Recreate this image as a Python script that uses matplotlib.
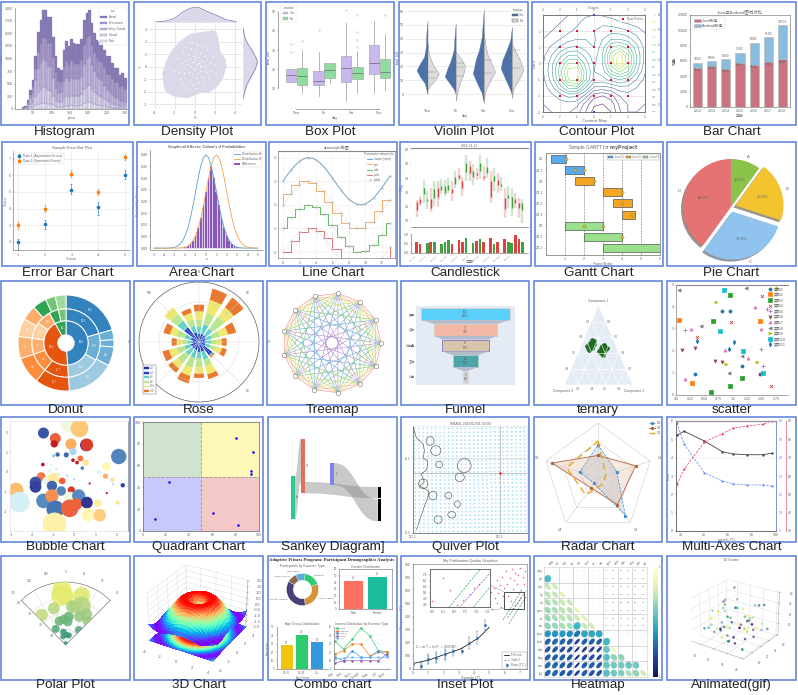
import numpy as np
import matplotlib
matplotlib.use('Agg')
import matplotlib.pyplot as plt
from matplotlib.patches import Rectangle, Ellipse, PathPatch, Polygon
from matplotlib.path import Path
from matplotlib.colors import Normalize

W, H = 798, 695
plt.rcParams.update({
    'font.family': ['Liberation Sans', 'Noto Sans CJK SC', 'DejaVu Sans'],
    'font.size': 3, 'axes.linewidth': .4, 'axes.edgecolor': '#666666',
    'xtick.major.size': 1, 'ytick.major.size': 1, 'xtick.major.width': .3, 'ytick.major.width': .3,
    'xtick.major.pad': .8, 'ytick.major.pad': .8, 'xtick.labelsize': 2.6, 'ytick.labelsize': 2.6,
    'axes.labelsize': 2.8, 'axes.titlesize': 3, 'axes.titlepad': 1.5, 'axes.labelpad': .6,
    'legend.fontsize': 2.3, 'legend.title_fontsize': 2.3, 'lines.linewidth': .6, 'patch.linewidth': .3,
    'text.color': '#666666', 'xtick.labelcolor': '#666666', 'ytick.labelcolor': '#666666',
    'xtick.color': '#777777', 'ytick.color': '#777777',
    'axes.labelcolor': '#666666', 'axes.unicode_minus': False, 'grid.color': '#dddddd', 'grid.linewidth': .3,
    'legend.borderpad': .4, 'legend.handlelength': 1.8, 'legend.labelspacing': .35, 'legend.handletextpad': .5,
})

# ------------------------ panel captions ------------------------
row_boxes = [(2, 125), (142, 266), (281, 405), (417, 542), (556, 680)]
caption_y = [132, 273, 410, 547, 685]
col_boxes = [
    [(1, 129), (134, 261), (266, 394), (399, 528), (532, 661), (667, 796)],
    [(2, 133), (137, 266), (269, 397), (400, 531), (535, 663), (667, 796)],
    [(1, 130), (134, 263), (267, 397), (401, 529), (534, 662), (667, 796)],
    [(1, 130), (134, 263), (268, 397), (401, 529), (534, 662), (667, 796)],
    [(1, 130), (134, 263), (268, 397), (401, 530), (534, 662), (667, 796)],
]
caption_rows = [
    ['Histogram', 'Density Plot', 'Box Plot', 'Violin Plot', 'Contour Plot', 'Bar Chart'],
    ['Error Bar Chart', 'Area Chart', 'Line Chart', 'Candlestick', 'Gantt Chart', 'Pie Chart'],
    ['Donut', 'Rose', 'Treemap', 'Funnel', 'ternary', 'scatter'],
    ['Bubble Chart', 'Quadrant Chart', 'Sankey Diagram]', 'Quiver Plot', 'Radar Chart', 'Multi-Axes Chart'],
    ['Polar Plot', '3D Chart', 'Combo chart', 'Inset Plot', 'Heatmap', 'Animated(gif)'],
]

# ------------------------ histogram ------------------------
hist_fair = [0,5,10,30,45,70,95,110,120,115,105,100,75,50,35,30,50,60,60,70,65,65,70,80,110,130,140,115,95,80,70,65,50,40,35,25,20,20,15,15,10]
hist_good = [5,10,30,65,100,180,250,290,310,300,270,260,190,130,100,100,170,190,170,190,190,190,190,210,290,320,340,280,240,210,190,170,140,110,100,80,70,60,50,50,40]
hist_vgood = [10,20,60,120,180,320,460,520,560,540,480,470,350,240,190,200,330,360,320,350,340,330,330,370,500,560,560,480,420,370,340,320,270,220,210,170,140,130,100,100,90]
hist_premium = [8,12,39,72,101,220,325,382,414,449,456,471,405,310,230,195,272,337,315,367,325,305,300,317,370,390,414,390,361,344,360,373,345,330,345,321,298,318,270,293,250]
hist_ideal = [10,13,40,90,150,250,400,460,550,550,510,520,410,310,253,250,350,390,380,400,390,390,390,400,500,500,500,430,380,360,370,370,360,340,350,310,280,280,240,250,220]
hist_names = ['Ideal', 'Premium', 'Very Good', 'Good', 'Fair']
hist_colors = ['#8a7bb5', '#a89bca', '#c2b8db', '#d9d3e9', '#ebe8f3']

# ------------------------ density ------------------------
dens_blob_x = [-3.1,-3.2,-2.9,-2.3,-1.5,-.5,1,1.8,2.15,2.3,2.5,3,3.1,2.8,2.3,1.5,.5,-.7,-2,-2.9]
dens_blob_y = [-1.5,-.5,.3,1.3,2,2.6,2.8,2.9,2.7,2.2,1.2,.6,0,-.8,-1.5,-2,-2.1,-2.5,-2.4,-2]
dens_pts_x = [-2.1,-1.8,-1.5,-1.4,-1.2,-1.1,-1,-.9,-.8,-.7,-.6,-.6,-.5,-.4,-.4,-.3,-.2,-.2,-.1,0,0,.1,.1,.2,.3,.3,.4,.5,.5,.6,.7,.8,.9,1,1.1,1.2,1.3,1.5,1.6,1.9,-1.3,-.9,-.3,.2,.7,1.2,-.6,.1,.8,-1,-.2,.4,1,-.5,.6,-1.6,1.7,2.1]
dens_pts_y = [-.3,.7,-1,.3,1.2,-.5,.5,-1.5,.2,1,-.4,.6,-1.1,.1,1.5,-.6,.4,-1.4,.9,-.2,.6,-.9,1.3,.2,-.5,.8,-1.2,.1,1.1,-.3,.5,-.8,.9,.1,-.4,.6,-.9,.3,-.3,.2,-1.3,1.6,2,1.8,1.6,1.4,-1.7,-1.7,-1.5,-.9,-.1,.3,-1.2,1.9,.1,-.4,.8,-.5]
kde_top_x = [-3.98,-2.83,-2,-1.18,-.53,-.03,.46,1.12,2.1,3.09,4.08]
kde_top_d = [0,3,12,30,40,44,42,32,20,7,1]
kde_right_y = [3.07,2.4,1.87,1.33,.8,.4,-.13,-.8,-1.47,-2.13,-2.53]
kde_right_d = [1,5,15,30,42,48,42,27,12,4,0]

# ------------------------ box ------------------------
box_days = ['Thur', 'Fri', 'Sat', 'Sun']
box_yes_stats = [(13.5,17,20.1,13.5,20.1), (11.7,13.8,19,6,28.8), (13.5,20.4,26.9,3.4,44.3), (17.5,23,32.4,7.4,45.3)]
box_yes_fliers = [[28.8,33.1], [40.4], [50.9], []]
box_no_stats = [(11.7,16.4,20.4,7.7,30), (15.2,19.6,23,13,23), (14.7,18.2,21,7.4,29.5), (15.2,18.5,25.1,9.1,38.3)]
box_no_fliers = [[34.9], [], [48.3,39.6,35.2,31.7], [48.3]]

# ------------------------ violin ------------------------
vio_yes_y = [[53,44,34,27,22,17.5,12.7,8,0],[51,41.5,32,24.7,18.7,12.7,8,3,0],[61,51,41.5,32,24.7,15,8,.7,-6.5],[48.7,39,32,24.7,18.7,10.3,3,-.5]]
vio_yes_w = [[0,.04,.06,.12,.27,.39,.27,.1,0],[0,.04,.07,.17,.29,.39,.22,.05,0],[0,.04,.07,.17,.29,.39,.24,.07,0],[0,.06,.19,.34,.4,.22,.06,0]]
vio_no_y = [[37,29,22,15,10,6.5,3],[30.7,25.9,21,16.3,10.3,4.3,-4.8],[44,36.7,29.5,22.3,16.3,10.3,3,-4],[36.7,32,24.7,17.5,11.5,4.3,-3]]
vio_no_w = [[0,.05,.18,.4,.27,.1,0],[0,.18,.33,.3,.19,.1,0],[0,.05,.12,.27,.4,.24,.07,0],[0,.1,.29,.4,.27,.06,0]]
vio_no_q = [[15.8,11.5],[22.8,19.9,13.2],[25,15.6],[32,18.7]]

# ------------------------ contour ------------------------
cont_x = [0,1,2,3,4,5,6,7,8,9,10,11,12]
cont_y = [0,1,2,3,4,5,6,7,8,9,10,11,12]
cont_z = [
 [0,0,0,0,.2,.8,1,.9,.6,.3,0,0,0],
 [0,0,0,.2,.8,1.5,1.8,1.8,1.6,1.2,.9,.6,.3],
 [0,0,.3,.8,1.3,1.9,2,2.4,2.6,2.5,2.1,1.5,.9],
 [0,.4,1,1.6,2,2,1.8,3,4,4,3.5,2.4,1.3],
 [.3,1.2,2.2,3,3.2,2.6,2,3.6,6,6.6,5.5,3.4,1.6],
 [.7,2,3.6,5,5,3.6,2.4,4,7.5,9.5,7.2,4,1.6],
 [.9,2.6,5,7,7,4.6,2.8,4,7.5,10,7.5,4,1.5],
 [.9,2.8,5.6,8.5,9,5.4,3,3.5,5.8,7.2,6,3.2,1.1],
 [.7,2.4,5,8,8.6,5.2,2.6,2.6,3.4,4,3.4,2,.7],
 [.4,1.6,3.4,5.2,5.4,3,.8,.6,.9,1.6,1.6,1,.4],
 [.2,.7,1.5,2.3,2.2,.6,-1.6,-2,-1.4,0,.6,.4,.1],
 [0,.2,.5,.6,.3,-1.4,-2.8,-3,-2.6,-.8,.1,.1,0],
 [0,0,.1,.1,-.5,-2,-3.4,-3.5,-3,-1.2,0,0,0]]
cont_px = [2,4,6,8,10]
cont_py = [2,4,6,8,10]

# ------------------------ stacked bars ------------------------
bar_years = ['2012','2013','2014','2015','2016','2017','2018']
bar_java = [5100,5400,5000,5800,5500,5900,6200]
bar_total = [5800,6000,6300,7100,8400,9100,10700]

# ------------------------ error bars ------------------------
err_x = [1,2,3,4,5]
err_a = [2,3.1,5.1,4.1,6]
err_a_lo = [.5,.3,.2,.5,.2]
err_a_hi = [.2,.2,.4,.3,.3]
err_b = [3,4,6.1,5,7.1]
err_b_lo = [.2,.2,.2,.2,.2]
err_b_hi = [.2,.2,.2,.2,.2]

# ------------------------ area ------------------------
area_x = [-5+.25*i for i in range(41)]
area_blue = [0,0,0,0,0,0,.001,.002,.004,.009,.018,.032,.054,.086,.13,.183,.242,.301,.352,.387,.399,.387,.352,.301,.242,.183,.13,.086,.054,.032,.018,.009,.004,.002,.001,0,0,0,0,0,0]
area_orange = [0,0,0,0,0,0,0,0,0,0,.001,.002,.004,.009,.018,.032,.054,.086,.13,.183,.242,.301,.352,.387,.399,.387,.352,.301,.242,.183,.13,.086,.054,.032,.018,.009,.004,.002,.001,0,0]

# ------------------------ line / steps ------------------------
wave_x = [.5*i for i in range(27)]
wave_y = [0,.25,.48,.68,.84,.95,1,.98,.91,.78,.6,.38,.14,-.11,-.35,-.57,-.76,-.89,-.98,-1,-.96,-.86,-.71,-.51,-.28,-.03,.22]
step_x = [0,1,2,3,4,5,6,7,8,9,10,11,12,13]
step_y = [0,.48,.84,1,.91,.6,.14,-.35,-.76,-.98,-.96,-.71,-.28,.22]

# ------------------------ candles ------------------------
c_open = [17.1,22.5,32.6,25.3,18.5,31.9,26.5,34.7,34.7,34.9,29.5,40.6,40,33,50.7,43.6,44.8,42,50.7,40,47.6,26.5,41.3,35.4,35.9,18.2,27.9,26.9,22.5,18.9,22]
c_close = [23.2,25.3,28.8,23.6,25.5,26,33,31.2,29.5,31.2,31.9,35.9,42,38.2,44.1,48.3,40.6,43.8,44.8,41.7,43.8,38.2,37.7,38.9,34.2,26,26,18.9,24.8,22.5,17.1]
c_high = [24.1,27.2,38.7,30.7,33,38.2,37.7,39.6,38.9,40,37.7,44.8,47.1,40.6,56.5,51.8,50,47.1,56.5,48.3,54.2,44.8,47.1,43.6,40.6,33,34.2,33,29.5,26,24.8]
c_low = [12.4,20.1,22.5,17.8,16.1,20.1,19.4,28.8,27.2,29.5,23.6,33,38.2,27.2,37.7,37.7,35.4,38.9,39.6,37.7,40,22.5,30.7,29.5,30.7,11.9,18.9,13.1,18.9,11.9,8.4]
c_volume = [.6,.5,0,.55,.6,.6,0,.5,.6,.7,.5,0,.7,.6,.85,0,.55,.65,.8,.6,0,.85,.5,.6,0,.8,.6,.55,1,.75,.6]
c_dates = ['2019-01-07','2019-01-14','2019-01-21','2019-01-28','2019-02-04','2019-02-11','2019-02-18','2019-02-25','2019-03-04','2019-03-11']

# ------------------------ gantt ------------------------
g_tasks = ['Z1','Z1.1','Z2','Z2.1','Z2.2','Z2.3','Z3','Z3.1','Z3.2']
g_start = [.26,1,1.54,3,3.5,4,1,2,3]
g_end = [1.06,2,2.52,4,4.5,4.68,3,4,6]
g_color = ['#5aaaf0','#5aaaf0','#f5a623','#f5a623','#f5a623','#f5a623','#9be08c','#9be08c','#9be08c']
g_marks = [[1.06],[1.5,2],[2.52],[4],[4],[4.5],[2,3],[4],[]]

# ------------------------ pie ------------------------
pie_values = [10,20,30,40]
pie_labels = ['A','B','C','D']
pie_colors = ['#8bc34a','#f4c430','#90c4ee','#e57373']
pie_explode = [0,.1,.1,0]

# ------------------------ donut ------------------------
don_in = [176,155,29]
don_in_c = ['#3182bd','#e6550d','#31a354']
don_mid = [74,46,56,42,33,27,28,25,16,13]
don_mid_c = ['#3182bd','#6baed6','#9ecae1','#e6550d','#fd8d3c','#fdae6b','#fdd0a2','#fdae6b','#31a354','#74c476']
don_out = [74,12,9,23,58,42,33,27,22,18,17,12,13]
don_out_c = ['#3182bd','#6baed6','#6baed6','#6baed6','#9ecae1','#e6550d','#fd8d3c','#fdae6b','#fdd0a2','#fdae6b','#31a354','#74c476','#a1d99b']

# ------------------------ rose ------------------------
rose_dirs = [0,22.5,45,67.5,90,112.5,135,157.5,180,202.5,225,247.5,270,292.5,315,337.5]
rose_a = [25,25,25,20,18,20,50,30,30,25,25,25,20,25,55,30]
rose_b = [20,30,25,20,18,15,3,25,20,25,25,20,15,20,25,20]
rose_c = [22,35,45,25,15,18,0,20,25,30,30,25,15,25,25,20]
rose_d = [25,40,35,25,17,18,0,25,20,25,20,23,17,20,25,20]
rose_e = [20,35,37,25,15,15,5,15,13,23,15,20,15,20,0,14]
rose_colors = ['#2040c0','#60d0c8','#b8e88c','#f0e870','#e87a30']

# ------------------------ network / funnel / ternary ------------------------
net_nodes = 13
net_colors = {1:'#e8767a',2:'#f4a460',3:'#c8d850',4:'#6cc06c',5:'#4fa3d8',6:'#a67cc8'}
fun_names = ['展现','点击','访问量','咨询','订单']
fun_values = [100,71,52,28,5]
fun_colors = ['#5bcffa','#f6b8a6','#d9c4ac','#4ca6a8','#d0d0d0']
fun_edges = ['#d8d0c8','#d8c8c0','#8878c8','#a8d0c8','#d8d8d8']
ter_a = [.46,.48,.5,.52,.55,.5,.53,.47,.49,.51,.56,.44,.47,.53,.5,.48,.52,.46, .42,.44,.46,.48,.45,.41,.43,.47,.5,.49,.4,.38,.44,.46,.42,.4,.47,.44]
ter_c = [.11,.14,.12,.13,.16,.16,.11,.17,.09,.18,.13,.14,.12,.15,.14,.16,.15,.15, .34,.33,.31,.35,.38,.38,.3,.36,.33,.3,.34,.37,.35,.39,.36,.36,.33,.31]

# ------------------------ scatter ------------------------
sc_x = [[.81,.94,.34,1.16,1.47],[.05,1.47,.28],[.95,.65,.94,1.16,.62],[1.51,.97,.36,1.67,1.47],[1.6,.15,1.48,1.52],[.1,.33,.69,.81],[1.38,.26,1.48,.86,1.26,.15],[.06,1.22,.44,1.16,.93],[1.77,.7,.88,1.42],[.84,.77,1.18,1.53],[.36,1.02,.92]]
sc_y = [[3.83,3.84,.96,1.3,.96],[3.41,3.35,.53],[4.53,3.35,.43,.79,.15],[4.48,3.31,2.62,.41,.96],[3.93,2.97,2.07,1.31],[2.03,2.13,1.55,1.51],[4.01,3.02,3.02,2.06,1.68,.73],[4.77,4.88,3.13,1.77,1.02],[4.88,4.22,1.4,1.52],[4.79,2.9,1.98,1.02],[2.44,2.39,2.1]]
sc_markers = ['o','s','s','x','+','v','^','<','>','s','d']
sc_colors = ['#1f77b4','#ff7f0e','#2ca02c','#d62728','#9467bd','#8c564b','#e377c2','#7f7f7f','#bcbd22','#17becf','#1f77b4']

# ------------------------ bubble ------------------------
bub_x = [-.27,.25,-1.46,-.9,-.95,-.16,.57,.6,2.11,-.06,-.79,-.38,-.98,.29,-.06,.13,.54,-1.49,-1.11,1.52,.38,-1.17,-.86,1.17,-.35,-.75,1.48,-1.57,-1.3,-1.84,-1.84,-.98,-.57,0,-1.06,-.62,-.14,1.81,1.84,2.3,.73,-2.76,-2.6,-1.46,-1.06,-.19,.21,-.9,.1,-.22,.6,1.13,.67,1.21,-.94,1.54,2.05]
bub_y = [2.42,2.2,1.97,1.69,1.42,1.41,1.36,1.37,.78,1.03,.88,.86,.81,.68,.59,.47,.47,.37,.37,.27,.19,.05,.14,-.03,-.17,-.12,-.22,-.24,-.46,-.54,-.76,-.34,-.46,-.37,-.71,-.97,-.92,-.41,-.63,-.68,-.59,-.92,-1.53,-1.47,-1.22,-1.31,-1.22,-1.9,-1.64,-1.85,-1.56,-1.59,-2.17,-2.2,-2.66,-1.08,-1.56]
bub_r = [22,24,15,15,10,15,17,17,21,10,6,7,4,8,5,5,9,5,2,12,5,5,3,6,5,5,7,12,12,16,16,16,9,3,14,13,10,6,3,6,3,20,28,20,18,16,18,24,16,24,16,11,18,17,32,3,6]
bub_c = [.55,.35,.95,.18,.06,.3,1,.12,.87,.7,.92,.92,.75,.2,.05,.05,.42,.05,.7,.48,.87,.6,.65,.6,.62,.62,.3,.22,.58,.95,.98,.44,.18,.7,.92,.87,.12,.4,.7,.98,.05,.33,.62,.86,.25,.55,.86,.9,.18,.18,1,.45,.48,.36,.45,.05,.42]

# ------------------------ quadrant ------------------------
quad_x = [80,95,93.5,93,22,10.3,60,82]
quad_y = [85,72.5,55.5,52.5,45,10.7,16.8,5.8]

# ------------------------ quiver ------------------------
quiv_angle = [
 [236,231,225,217,207,194,180,166,153],
 [243,239,233,225,214,198,180,162,146],
 [252,248,243,236,225,207,180,153,135],
 [261,259,256,252,243,225,180,135,117],
 [270,270,270,270,270,270,90,90,90],
 [279,281,284,288,297,315,0,45,63],
 [288,292,297,304,315,333,0,27,45],
 [297,301,307,315,326,342,0,18,34],
 [304,309,315,323,333,346,0,14,27]]
coast_x = [0,3,9,10,9,13,12,7,10,6,14,13,10,6,3]
coast_y = [99,89,83,77,70,67,59,55,48,44,39,33,25,12.5,3]
isle_x = [15,20,23,45,41,9,17.5,31,39,34,22]
isle_y = [86,77,64,63,52,46,35,35,27,17,12.5]
isle_w = [7,9,6,12,8,8,7,6,5,7,7]
isle_h = [8,9,6,13,8,9,8,6,6,6,7]

# ------------------------ radar ------------------------
radar_labels = ['U1','U2','U3','U4','U5']
radar_d1 = [.6,.36,.85,.12,.35]
radar_d2 = [.41,.72,.6,.22,.88]
radar_d3 = [.67,.15,.14,.38,.6]

# ------------------------ multi-axes ------------------------
multi_x = [17,23,40,55,64,76,89,97]
multi_black = [5.22,5.44,4.91,4.33,4.2,4.16,4.16,4.25]
multi_blue = [5.9,4.73,3.18,2.73,2.58,2.51,2.51,2.45]
multi_red = [2.55,3.36,4.85,5.31,5.6,5.73,5.82,6.02]

# ------------------------ polar ------------------------
pol_theta = [-4,-5,0,18,-18,-39,10,15,22,34,26,42,-15,-4,6,5,-32,41.5,-10,-19,18,4,0]
pol_r = [233,205,204,218,160,160,162,166,175,153,131,135,103,107,118,97,79,83,55,36,42,42,7]
pol_s = [28,30,25,25,18,19,19,18,28,18,16,15,14,14,15,14,12,12,10,8,9,9,6]
pol_c = ['#e8ec68','#e5ea70','#e5ea70','#e0e870','#b8d880','#c0da80','#a8d080','#a8d080','#b5d480','#a0cc80','#98c880','#9cc87c','#6ab878','#6ab878','#6ab878','#6ab878','#55a878','#55a878','#3c9878','#3c9878','#3c9878','#3c9878','#2d9070']

# ------------------------ 3D surface radial profile ------------------------
surf_profile_r = [.25*i for i in range(24)]
surf_profile_z = wave_y[:24]

# ------------------------ combo ------------------------
combo_don = [35,60,100,130,35]
combo_don_c = ['#5dade2','#2ecc71','#d4933a','#4a3f78','#8b6b55']
combo_don_l = ['Yoga/Pilates','Swimming','Cardio Training','Strength Training','Group Classes']
combo_gender = [42,48]
combo_age = [28,40,31.5]
combo_green = [32.7,23.6,35.4,48.4,39.4,21.7,20.5]
combo_orange = [17.7,21.7,29.5,29.5,15.7,19.7,20.5]
combo_blue = [13.8,9.8,21.7,13.8,13.8,21.7,15.7]
combo_purple = [6.7,9.8,9.8,9.8,9.8,9.8,17.7]
combo_sky = [11.8,13,13.8,13,13.8,13.8,13.8]
combo_ticks = ['Yoga','Swim','Cardio','Strength','Group','HIIT','Dance']

# ------------------------ inset ------------------------
ins_x = [0,.5,1,1.5,2.1,2.6,3.2,3.7,4.2,4.75]
ins_y = [37,25,75,87,112,137,137,200,237,337]
ins_err = [35,30,40,40,40,40,25,45,50,40]
ins_fit_x = [0,1,2.1,3.2,4.3,5]
ins_fit_y = [42,67,112,157,237,317]
ins_pink_x = [5,5.1,5.2,5.3,5.35,5.5,5.5,5.6,5.7,5.75,5.85,5.9,6,6,6.1,6.2,6.25,6.35,6.4,6.5,6.55,6.6,6.7,6.8,6.85,6.9,7,7.1,7.2,7.3,7.35,6.55,6.7,6.85,6.95,7.05]
ins_pink_y = [510,590,460,620,540,680,500,580,640,470,700,560,620,480,745,650,560,690,520,760,610,680,730,590,650,720,770,600,700,650,750,468,485,505,525,540]
ins_lines = [([5.9,7.1],[372,592],'#2ca25f'),([6.2,7.45],[390,600],'#8a5fd0'),([6.3,7.45],[345,555],'#2ca25f')]

# ------------------------ corr matrix ------------------------
corr_labels = ['mpg','cyl','dsp','hp','wt','qsec','vs','am','gear','carb','drat','disp','rpm','kpl']
corr_rows = [
 [],[.05],[.5,.55],[.45,.5,.65],[.4,.45,.5,.5],[.35,.4,.45,.45,.7],[.35,.4,.45,.45,.55,.65],
 [.3,.35,.4,.4,.0,.5,.55],[-.2,-.2,-.2,-.25,-.4,-.1,-.1,-.1],[-.45,-.45,-.45,-.5,-.7,-.5,-.5,-.55,.02],
 [-.55,-.55,-.6,-.6,-.8,-.7,-.7,-.7,.15,.75],[-.5,-.5,-.5,-.55,-.8,-.6,-.6,-.65,.1,.3,.3],
 [-.45,-.45,-.5,-.5,-.8,-.5,-.5,-.55,.15,.2,.2,.15,.2],[-.45,-.45,-.5,-.5,-.7,-.5,-.55,-.55,.1,.2,.25,.4,.3,.55]]

# ------------------------ 3D scatter ------------------------
s3_x = [12,28,35,18,22,8,31,15,26,38,10,20,33,5,24,29,14,37,17,21,7,32,27,11,36,19,25,13,30,34,9,23,16,39,6,28,22,31,12,18,35,26,10,33,20,15,29,24,37,8,17,30,13,27,38,21,11,34,25,19]
s3_y = [35,12,28,8,22,30,18,5,38,15,25,33,9,20,14,27,36,11,23,6,31,16,29,3,24,13,37,19,7,34,10,26,21,32,17,4,39,28,12,30,22,8,18,35,15,25,10,33,6,27,13,20,37,5,29,11,24,16,31,9]
s3_z = [38,35,32,30,28,27,25,24,24,22,22,21,20,20,19,18,18,17,16,16,15,15,14,14,13,13,12,12,11,11,10,10,9,9,8,8,7,7,6,6,5,5,5,4,4,4,3,3,3,2,2,2,26,30,33,36,29,23,17,12]
s3_c = [.1,.5,.3,.9,.6,.2,.7,.95,.4,.15,.55,.85,.05,.65,.25,.75,.45,.9,.35,.1,.6,.8,.2,.5,.95,.3,.7,.4,.15,.85,.55,.05,.9,.25,.65,.45,.75,.1,.35,.95,.2,.6,.8,.5,.3,.7,.15,.9,.4,.55,.85,.05,.25,.65,.45,.75,.1,.35,.95,.2]


def A(l, t, r, b, **k):
    return fig.add_axes([l / W, 1 - b / H, (r - l) / W, (b - t) / H], **k)


def light_3d(ax):
    for ax_ in (ax.xaxis, ax.yaxis, ax.zaxis):
        ax_.set_pane_color((1, 1, 1, 0))
        ax_.line.set_color('#aaaaaa'); ax_.line.set_linewidth(.4)
        ax_._axinfo['grid'].update(color='#dedede', linewidth=.35)


fig = plt.figure(figsize=(W / 100, H / 100), dpi=100, facecolor='white')

# ===== Histogram =====
ax = A(15, 8, 128, 109)
bottom = np.zeros(len(hist_ideal))
edges = [18 + 7 * i for i in range(len(hist_ideal))]
for vals, col, name in zip([hist_fair, hist_good, hist_vgood, hist_premium, hist_ideal], hist_colors[::-1], hist_names[::-1]):
    ax.bar(edges, vals, 7, bottom=bottom, align='edge', color=col, edgecolor='#7a6da5', linewidth=.2, label=name)
    bottom += np.array(vals)
ax.set_xlim(0, 309); ax.set_ylim(0, 2000)
ax.set_xticks([50, 100, 150, 200, 250, 300]); ax.set_yticks(range(0, 2001, 250))
ax.set_xlabel('price'); ax.set_ylabel('Count')
for s in ['top', 'right']:
    ax.spines[s].set_visible(False)
h, l = ax.get_legend_handles_labels()
ax.legend(h[::-1], l[::-1], title='cut', loc='upper right', bbox_to_anchor=(.99, 1), borderaxespad=0, fancybox=False, edgecolor='#dddddd', fontsize=2.6, labelspacing=.55)

# ===== Density =====
ax = A(148, 23, 242, 110)
ax.fill(dens_blob_x, dens_blob_y, color='#dcd8ea', zorder=1)
ax.scatter(dens_pts_x, dens_pts_y, s=.8, color='white', linewidths=0, zorder=2)
ax.set_xlim(-4.65, 4.65); ax.set_ylim(-3.46, 3.5)
ax.set_xticks([-4, -2, 0, 2, 4]); ax.set_yticks([-3, -2, -1, 0, 1, 2, 3])
ax.grid(color='#dddddd', lw=.5); ax.set_axisbelow(True)
ax.set_xlabel('X'); ax.set_ylabel('Y')
for s in ax.spines.values():
    s.set_visible(False)
ax.tick_params(length=0)
ax = A(148, 5, 242, 22)
ax.fill_between(kde_top_x, kde_top_d, color='#dcd8ea'); ax.plot(kde_top_x, kde_top_d, color='#8878b8', lw=.5)
ax.set_xlim(-4.65, 4.65); ax.set_ylim(0, 50); ax.axis('off')
ax = A(243, 23, 258, 110)
ax.fill_betweenx(kde_right_y, kde_right_d, color='#dcd8ea'); ax.plot(kde_right_d, kde_right_y, color='#8878b8', lw=.5)
ax.set_ylim(-3.46, 3.5); ax.set_xlim(0, 50); ax.axis('off')

# ===== Box =====
ax = A(278, 5, 393, 109)
def boxes(stats, fliers, off, col):
    bx = [dict(med=s[1], q1=s[0], q3=s[2], whislo=s[3], whishi=s[4], fliers=f) for s, f in zip(stats, fliers)]
    ax.bxp(bx, positions=[i + off for i in range(4)], widths=.38, patch_artist=True, manage_ticks=False,
           boxprops=dict(facecolor=col, edgecolor='#aaaaaa', lw=.5), medianprops=dict(color='#666666', lw=.5),
           whiskerprops=dict(color='#999999', lw=.5), capprops=dict(lw=0),
           flierprops=dict(marker='o', ms=1.1, mfc='none', mec='#aaaaaa', mew=.3))
boxes(box_yes_stats, box_yes_fliers, -.2, '#c9b8ee')
boxes(box_no_stats, box_no_fliers, .2, '#8fdca0')
ax.set_xlim(-.665, 3.49); ax.set_ylim(-.8, 53.5)
ax.set_xticks(range(4)); ax.set_xticklabels(box_days); ax.set_yticks([10, 20, 30, 40, 50])
ax.set_xlabel('day'); ax.set_ylabel('total_bill')
ax.spines['top'].set_visible(False); ax.spines['right'].set_visible(False)
ax.spines['left'].set_bounds(10, 50); ax.spines['bottom'].set_bounds(0, 3)
ax.legend(handles=[Rectangle((0, 0), 1, 1, fc='#c9b8ee', ec='#aaa', lw=.3), Rectangle((0, 0), 1, 1, fc='#8fdca0', ec='#aaa', lw=.3)],
          labels=['Yes', 'No'], title='smoker', loc='upper left', bbox_to_anchor=(.03, 1), borderaxespad=0, fancybox=False, edgecolor='#dddddd')

# ===== Violin =====
ax = A(405, 7, 526, 108)
for i in range(4):
    ax.fill_betweenx(vio_yes_y[i], i - np.array(vio_yes_w[i]), i, color='#4c72a8', ec='#667799', lw=.25)
    ax.fill_betweenx(vio_no_y[i], i, i + np.array(vio_no_w[i]), color='#dcdcdc', ec='#777777', lw=.25)
    for q in vio_no_q[i]:
        ax.plot([i, i + .3], [q, q], color='#666666', lw=.3, ls='--')
ax.set_xlim(-.8, 3.5); ax.set_ylim(-10, 63)
ax.set_xticks(range(4)); ax.set_xticklabels(box_days); ax.set_yticks(range(0, 61, 10))
ax.grid(axis='y', color='#e4e4e4', lw=.5); ax.set_axisbelow(True); ax.tick_params(length=0)
ax.set_xlabel('day'); ax.set_ylabel('total_bill')
for s in ax.spines.values():
    s.set_visible(False)
ax.legend(handles=[Rectangle((0, 0), 1, 1, fc='#4c72a8', ec='#555', lw=.3), Rectangle((0, 0), 1, 1, fc='#dcdcdc', ec='#555', lw=.3)],
          labels=['Yes', 'No'], title='smoker', loc='upper right', frameon=False, borderaxespad=0)

# ===== Contour =====
ax = A(543, 15, 645, 112)
cs = ax.contour(cont_x, cont_y, cont_z, levels=np.arange(-3, 11), cmap='viridis', linewidths=.35)
gx, gy = np.meshgrid(cont_px, cont_py)
ax.scatter(gx.ravel(), gy.ravel(), s=2.5, color='#e0103a', marker='s', linewidths=0, zorder=3, label='Data Points')
ax.scatter([6, 6], [0, 12], s=2, color='#4040d0', marker='s', linewidths=0, zorder=3, clip_on=False)
ax.set_xlim(0, 12); ax.set_ylim(12, 0)
ax.set_xticks([0, 2, 4, 6, 8, 10, 12]); ax.set_yticks([2, 4, 6, 8, 10, 12])
ax.tick_params(top=True, labeltop=True, labelsize=2.2)
ax.set_xticklabels(['-3', '-2', '-1', '0', '1', '2', '3'])
ax.set_yticklabels(['2', '1', '0', '-1', '-2', '-3'])
ax.grid(color='#d8d8d8', lw=.4)
ax.set_xlabel('Contour Map', fontsize=3.2); ax.set_ylabel('Y-axis')
ax.text(.5, 1.065, 'X-axis', transform=ax.transAxes, ha='center', fontsize=3)
ax.legend(loc='upper right', fontsize=2.2, borderaxespad=.3)
for s in ax.spines.values():
    s.set_linewidth(.7); s.set_color('#777777')
cax = A(652, 15, 655, 112)
cb = fig.colorbar(cs, cax=cax); cb.ax.tick_params(labelsize=2.2, length=1, width=.3); cb.outline.set_visible(False)

# ===== Stacked bars =====
ax = A(690, 15, 790, 107)
xs = range(len(bar_years))
extra = [t - j for t, j in zip(bar_total, bar_java)]
ax.bar(xs, bar_java, .65, color='#c97480', edgecolor='#bbbbbb', linewidth=.5, label='Java教程')
ax.bar(xs, extra, .65, bottom=bar_java, color='#88bde0', edgecolor='#bbbbbb', linewidth=.5, label='Android教程')
for i, (j, t) in enumerate(zip(bar_java, bar_total)):
    ax.text(i, t + 150, str(t), ha='center', va='bottom', fontsize=2.4)
    ax.text(i, j - 60, str(j), ha='center', va='top', fontsize=2.4)
ax.set_xticks(list(xs)); ax.set_xticklabels(bar_years); ax.set_ylim(0, 12000); ax.set_xlim(-.55, 6.55)
ax.set_yticks(range(0, 12001, 2000))
ax.set_xlabel('年份'); ax.set_ylabel('销量'); ax.set_title('Java与Android图书对比', fontsize=3.2)
ax.legend(loc='upper left', fontsize=2.8, fancybox=False, edgecolor='#cccccc')

# ===== Error bars =====
ax = A(13, 151, 130, 250)
ax.errorbar(err_x, err_a, yerr=[err_a_lo, err_a_hi], fmt='o', ms=1.6, color='#1f77b4', elinewidth=.4, capsize=1, capthick=.4, label='Data 1 (Asymmetric Errors)')
ax.errorbar(err_x, err_b, yerr=[err_b_lo, err_b_hi], fmt='s', ms=1.6, color='#ff7f0e', elinewidth=.4, capsize=1, capthick=.4, label='Data 2 (Symmetric Errors)')
ax.set_xlim(.81, 5.19); ax.set_ylim(1.52, 7.45)
ax.set_xticks(err_x); ax.set_yticks([2, 3, 4, 5, 6, 7])
ax.grid(color='#e4e4e4', lw=.4)
ax.set_title('Sample Error Bar Plot'); ax.set_xlabel('X-axis'); ax.set_ylabel('Y-axis')
ax.legend(loc='upper left', fancybox=False, edgecolor='#cccccc')
for s in ['top', 'right']:
    ax.spines[s].set_visible(False)

# ===== Area =====
ax = A(150, 150, 263, 250)
ov = np.minimum(area_blue, area_orange)
ax.fill_between(area_x, ov, color='#c9b2e2', alpha=.7, lw=0)
ax.bar(area_x, ov, .17, color='#8a58b8', label='Difference')
ax.plot(area_x, area_blue, color='#5a9fcc', lw=.6, label='Distribution A')
ax.plot(area_x, area_orange, color='#f0a050', lw=.6, label='Distribution B')
ax.set_xlim(-5.4, 5.5); ax.set_ylim(-.008, .42)
ax.set_xticks(range(-5, 6)); ax.set_yticks([0, .05, .1, .15, .2, .25, .3, .35, .4])
ax.set_title("Graphical Effects: Cohen's d Probabilities", fontsize=2.8, fontweight='bold')
ax.set_xlabel('x'); ax.set_ylabel('Probability Density')
ax.legend(loc='upper right', fancybox=False, edgecolor='#cccccc', borderaxespad=.2)
for s in ['top', 'right']:
    ax.spines[s].set_visible(False)

# ===== Steps =====
ax = A(278, 151, 395, 258)
y3 = np.array(wave_y) + 3
sy = np.array(step_y)
ax.plot(wave_x, y3, color='#4f94c4', lw=.6, label='steps (=pre)')
ax.step(step_x, sy + 2, where='pre', color='#f0a050', lw=.6, label='pre')
ax.step(step_x, sy + 1, where='mid', color='#50b050', lw=.6, label='mid')
ax.step(step_x, sy, where='post', color='#e06060', lw=.6, label='post')
for off in [3, 2, 1, 0]:
    ax.plot(step_x, sy + off, 'o--', color='#bbbbbb', ms=.8, lw=.3, alpha=.7, label='(plot)' if off == 0 else None)
ax.set_xlim(-.6, 13.6); ax.set_ylim(-.25, 4.28)
ax.set_xticks([0, 2, 4, 6, 8, 10, 12]); ax.set_yticks([0, 1, 2, 3, 4])
ax.grid(color='#eeeeee', lw=.4)
ax.set_title('drawstyle绘图'); ax.legend(title='Parameter drawstyle', loc='upper right', frameon=False, borderaxespad=0)
ax.spines['top'].set_linewidth(.8); ax.spines['top'].set_color('#888888')

# ===== Candlestick =====
ax = A(411, 148, 528, 227)
cx = list(range(len(c_open)))
cols = ['#e04040' if c > o else '#40a040' for o, c in zip(c_open, c_close)]
ax.vlines(cx, c_low, c_high, colors=cols, lw=1.7, alpha=.25)
ax.vlines(cx, c_open, c_close, colors=cols, lw=1)
ax.set_xlim(-1.6, 31.6); ax.set_ylim(5.3, 61.3)
ax.set_yticks([10, 20, 30, 40, 50, 60]); ax.set_xticks([])
ax.set_ylabel('价格'); ax.set_title('2021-01-11', fontsize=2.4, pad=1)
for s in ['left', 'right']:
    ax.spines[s].set_visible(False)
ax.spines['top'].set_linewidth(.8); ax.spines['top'].set_color('#888888')
ax.spines['bottom'].set_color('#888888'); ax.spines['bottom'].set_linewidth(.6)
ax = A(411, 234, 528, 253)
ax.bar(cx, c_volume, .75, color=cols)
ax.set_xlim(-1.6, 31.6); ax.set_ylim(0, 1.05)
ax.set_xticks(cx[::3][:10]); ax.set_xticklabels(c_dates, rotation=40, ha='right', fontsize=1.25)
ax.tick_params(axis='x', pad=.3)
ax.set_yticks([0, .5, 1]); ax.set_xlabel('日期'); ax.xaxis.set_label_coords(.5, -.36)
for s in ['top', 'right']:
    ax.spines[s].set_visible(False)

# ===== Gantt =====
ax = A(546, 153, 660, 255)
for i, (a, b, c) in enumerate(zip(g_start, g_end, g_color)):
    ax.barh(i, b - a, .72, left=a, color=c, edgecolor='#555555', linewidth=.5)
    for m in g_marks[i]:
        ax.plot(m, i, 'D', color='#f5c518', ms=1.8, mec='#555555', mew=.25, clip_on=False, zorder=4)
ax.set_xlim(0, 6); ax.set_ylim(8.63, -.53)
ax.set_yticks(range(9)); ax.set_yticklabels(g_tasks); ax.set_xticks([1, 2, 3, 4, 5, 6])
ax.grid(axis='x', color='#777777', lw=.4, ls='--'); ax.set_axisbelow(True)
ax.set_xlabel('Project Weeks', fontsize=2.2)
ax.set_title(r'Sample GANTT for $\bf{myProject}$', fontsize=3.4, pad=3)
ax.legend(handles=[Rectangle((0, 0), 1, 1, fc=c, ec='#555', lw=.3) for c in ['#5aaaf0', '#f5a623', '#9be08c']],
          labels=['Level 1', 'Level 2', 'Level 3'], ncol=3, loc='upper right', borderaxespad=.2, fontsize=2, columnspacing=.8, fancybox=False, edgecolor='#888888')
for s in ax.spines.values():
    s.set_color('#888888'); s.set_linewidth(.6)

# ===== Pie =====
ax = A(671, 147, 791, 267)
ax.pie(pie_values, labels=pie_labels, colors=pie_colors, explode=pie_explode, autopct='%.1f%%', startangle=90, counterclock=False,
       shadow={'ox': -.03, 'oy': -.03, 'shade': .75}, textprops=dict(fontsize=3), pctdistance=.6, labeldistance=1.1, wedgeprops=dict(lw=0))
ax.set_xlim(-1.25, 1.25); ax.set_ylim(-1.25, 1.25)

# ===== Donut =====
ax = A(6, 283, 126, 403)
for sizes, colors, rad, wid in [(don_out, don_out_c, 1.0, .29), (don_mid, don_mid_c, .71, .25), (don_in, don_in_c, .46, .29)]:
    wed, _ = ax.pie(sizes, colors=colors, radius=rad, startangle=90, counterclock=False,
                    wedgeprops=dict(width=wid, edgecolor='white', linewidth=.7))
    for sz, w_ in zip(sizes, wed):
        if sz > 20:
            a_ = np.radians((w_.theta1 + w_.theta2) / 2)
            ax.text((rad - wid / 2) * np.cos(a_), (rad - wid / 2) * np.sin(a_), f'{sz / 3.6:.1f}', ha='center', va='center', fontsize=1.8, color='white')
ax.set_xlim(-1.25, 1.25); ax.set_ylim(-1.25, 1.25)

# ===== Rose =====
ax = A(139, 282, 259, 402, projection='polar')
ax.set_theta_zero_location('N'); ax.set_theta_direction(-1)
th = np.radians(rose_dirs)
bot = np.zeros(16)
for vals, col in zip([rose_a, rose_b, rose_c, rose_d, rose_e], rose_colors):
    ax.bar(th, vals, .29, bottom=bot, color=col, linewidth=0)
    bot += np.array(vals)
ax.set_rlim(0, 180); ax.set_rticks([60, 120, 180]); ax.set_yticklabels([])
ax.set_xticks(np.radians([0, 45, 90, 135, 180, 225, 270, 315])); ax.set_xticklabels(['N', 'NE', 'E', 'SE', 'S', '', 'W', 'NW'], fontsize=2.2)
ax.tick_params(pad=-1)
ax.grid(color='#cccccc', lw=.35, ls='--'); ax.spines['polar'].set_linewidth(.5)
ax.legend(handles=[Rectangle((0, 0), 1, 1, color=c) for c in ['#203090'] + rose_colors],
          labels=['0-2', '2-4', '4-6', '6-8', '8-10', '>10'], loc='lower left', bbox_to_anchor=(143 / W, 1 - 394 / H),
          bbox_transform=fig.transFigure, borderaxespad=0, fontsize=1.8, fancybox=False, edgecolor='#555555', framealpha=1, labelspacing=.25)

# ===== Network ("Treemap") =====
ax = A(268, 282, 396, 404)
ang = np.radians(83 - np.arange(net_nodes) * 360 / net_nodes)
nx, ny = np.cos(ang), np.sin(ang)
for i in range(net_nodes):
    for j in range(i + 1, net_nodes):
        d = min(j - i, net_nodes - (j - i))
        ax.plot([nx[i], nx[j]], [ny[i], ny[j]], color=net_colors[d], lw=.35, zorder=1)
ax.scatter(nx, ny, s=10, color='white', edgecolors='#777777', linewidths=.4, zorder=2)
ax.set_xlim(-1.3, 1.3); ax.set_ylim(-1.22, 1.22); ax.axis('off')

# ===== Funnel =====
ax = A(416, 306, 515, 385, facecolor='#e4ebf5')
for i, (v, c, e) in enumerate(zip(fun_values, fun_colors, fun_edges)):
    ax.barh(i, v, .76, left=-v / 2, color=c, edgecolor=e, linewidth=.6)
    ax.text(0, i, f'{v}\n{v}%', ha='center', va='center', fontsize=1.9, color='#555555')
    ax.text(-56.5, i, fun_names[i], ha='right', va='center', fontsize=2.2, clip_on=False)
    if i < 4:
        nv = fun_values[i + 1]
        ax.fill([-v / 2, v / 2, nv / 2, -nv / 2], [i + .38, i + .38, i + .62, i + .62], color='#b4bccb', lw=0)
ax.set_xlim(-55.7, 55.7); ax.set_ylim(4.52, -.52); ax.set_xticks([]); ax.set_yticks([])
for s in ax.spines.values():
    s.set_visible(False)

# ===== Ternary =====
ax = A(534, 281, 662, 405)
ax.add_patch(Polygon([(0, 0), (1, 0), (.5, 1)], color='#e5ecf6', lw=0))
for t in [.2, .4, .6, .8]:
    ax.plot([t / 2, 1 - t / 2], [t, t], color='white', lw=.4)
    ax.plot([t, t / 2 + .5], [0, 1 - t], color='white', lw=.4)
    ax.plot([t, t / 2], [0, t], color='white', lw=.4)
    ax.text(t, -.035, f'{t:.1f}', ha='center', va='top', fontsize=2.2)
    ax.text(t / 2 - .03, t, f'{1 - t:.1f}', ha='right', va='center', fontsize=2.2)
    ax.text(1 - t / 2 + .03, t, f'{t:.1f}', ha='left', va='center', fontsize=2.2)
ax.scatter(np.array(ter_c) + np.array(ter_a) / 2, ter_a, s=11, color='#1f6b20', linewidths=0)
ax.text(.5, 1.03, 'Component 1', ha='center', va='bottom', fontsize=2.4)
ax.text(-.03, -.05, 'Component 2', ha='center', va='top', fontsize=2.4)
ax.text(1.03, -.05, 'Component 3', ha='center', va='top', fontsize=2.4)
ax.set_xlim(-.454, 1.44); ax.set_ylim(-.257, 1.313); ax.axis('off')

# ===== Scatter =====
ax = A(676, 285, 788, 395)
for i in range(11):
    ax.scatter(sc_x[i], sc_y[i], marker=sc_markers[i], s=5, color=sc_colors[i], linewidths=.5, label=f'类别{i + 1}')
ax.set_xlim(0, 1.96); ax.set_ylim(0, 5)
ax.set_xticks([0, .25, .5, .75, 1, 1.25, 1.5, 1.75]); ax.set_xticklabels(['0.0', '0.25', '0.50', '0.75', '1.0', '1.25', '1.50', '1.75'])
ax.set_yticks([0, 1, 2, 3, 4, 5])
ax.legend(loc='upper right', fontsize=2.8, borderaxespad=.1, handletextpad=.1, labelspacing=.4, frameon=False)
ax.spines['top'].set_linewidth(.8); ax.spines['top'].set_color('#888888')
ax.spines['right'].set_visible(False)

# ===== Bubble =====
ax = A(10, 421, 128, 531)
ax.scatter(bub_x, bub_y, s=[.28 * r * r for r in bub_r], c=bub_c, cmap='RdYlBu', vmin=0, vmax=1, linewidths=0, zorder=2)
ax.set_xlim(-3.05, 2.55); ax.set_ylim(-3, 2.58)
ax.set_xticks([-3, -2, -1, 0, 1, 2]); ax.set_yticks([-2, -1, 0, 1, 2])
for s in ['top', 'bottom', 'left']:
    ax.spines[s].set_color('#dddddd')

# ===== Quadrant =====
ax = A(143, 422, 259, 531)
ax.add_patch(Rectangle((0, 50), 50, 50, color='#d1e3d0', lw=0))
ax.add_patch(Rectangle((50, 50), 50, 50, color='#fdf8b8', lw=0))
ax.add_patch(Rectangle((0, 0), 50, 50, color='#c8c8fa', lw=0))
ax.add_patch(Rectangle((50, 0), 50, 50, color='#f5c8c8', lw=0))
ax.axvline(50, color='#999999', ls='--', lw=.6); ax.axhline(50, color='#999999', ls='--', lw=.6)
ax.scatter(quad_x, quad_y, s=3.5, color='#1010f0', linewidths=0, zorder=3)
ax.set_xlim(0, 100); ax.set_ylim(0, 100)
ax.set_xticks(range(0, 101, 20)); ax.set_yticks(range(0, 101, 20))
for s in ax.spines.values():
    s.set_color('#777777'); s.set_linewidth(.6)

# ===== Sankey =====
ax = A(268, 417, 397, 542)
def link(x0, t0, b0, x1, t1, b1):
    m = (x0 + x1) / 2
    verts = [(x0, t0), (m, t0), (m, t1), (x1, t1), (x1, b1), (m, b1), (m, b0), (x0, b0), (x0, t0)]
    codes = [Path.MOVETO, Path.CURVE4, Path.CURVE4, Path.CURVE4, Path.LINETO, Path.CURVE4, Path.CURVE4, Path.CURVE4, Path.CLOSEPOLY]
    ax.add_patch(PathPatch(Path(verts, codes), fc='#888888', alpha=.45, lw=0))
link(27, 59, 102, 33, 21.7, 65)
link(36.7, 65, 76.3, 109.7, 70, 81.3)
link(66, 46, 68, 109.7, 82.3, 104.3)
for x, y0, y1, c in [(23, 59, 102, '#2cc990'), (33, 21.7, 76.3, '#e0705c'), (62.3, 46, 68, '#8080f0'), (109.7, 70, 81.3, 'black'), (109.7, 82.3, 104.3, 'black')]:
    ax.add_patch(Rectangle((x, y0), 3.8, y1 - y0, color=c, lw=0))
ax.text(29, 80, 'A', fontsize=2, ha='center', va='center'); ax.text(39, 49, 'B', fontsize=2, ha='center', va='center'); ax.text(68.5, 57, 'C', fontsize=2, ha='center', va='center')
ax.set_xlim(0, 129); ax.set_ylim(125, 0); ax.axis('off')

# ===== Quiver =====
ax = A(413, 426, 527, 533)
ang = np.radians(np.kron(np.array(quiv_angle, float), np.ones((3, 3))))
n = ang.shape[0]
qx, qy = np.meshgrid((np.arange(n) + .5) / n * 100, 100 - (np.arange(n) + .5) / n * 100)
ax.quiver(qx, qy, np.cos(ang) * 2, np.sin(ang) * 2, color='#a8e0f4', angles='xy', scale_units='xy', scale=1, width=.006, headwidth=3, headlength=3.5, zorder=1)
ax.plot(coast_x, coast_y, color='#444444', lw=.4, zorder=3)
for x, y, w_, h_ in zip(isle_x, isle_y, isle_w, isle_h):
    ax.add_patch(Ellipse((x, y), w_, h_, fc='none', ec='#444444', lw=.4, zorder=3))
ax.axvline(76, color='#999999', lw=.4); ax.axhline(56, color='#999999', lw=.4); ax.axhline(70, color='#cccccc', lw=.4)
ax.scatter([76], [56], s=2.5, color='red', linewidths=0, zorder=4)
ax.set_xlim(0, 100); ax.set_ylim(0, 100)
ax.set_xticks([0, 76]); ax.set_xticklabels(['121.5', '122.5'], fontsize=2.2); ax.set_yticks([0, 70]); ax.set_yticklabels(['11.0', '11.5'], fontsize=2.2)
ax.set_title('KMA01 2019/12/01 00:00', fontsize=2.6, pad=1)
for s in ['left', 'bottom']:
    ax.spines[s].set_color('#555555'); ax.spines[s].set_linewidth(.5)
for s in ['top', 'right']:
    ax.spines[s].set_color('#dddddd')

# ===== Radar =====
ax = A(543, 423, 653, 533, projection='polar')
ax.set_theta_zero_location('N'); ax.set_theta_direction(-1)
rt = np.radians([0, 72, 144, 216, 288, 360])
for r in [.33, .66, 1]:
    ax.plot(rt, [r] * 6, color='#cccccc', lw=.4)
for t in rt[:5]:
    ax.plot([t, t], [0, 1], color='#cccccc', lw=.4)
def closed(v):
    return list(v) + [v[0]]
ax.fill(rt, closed(radar_d1), color='#9ab8d8', alpha=.3, lw=0)
ax.plot(rt, closed(radar_d1), color='#3c8fd0', lw=.5, ls='--', marker='o', ms=1.4, label='D1')
ax.fill(rt, closed(radar_d2), color='#d89870', alpha=.22, lw=0)
ax.plot(rt, closed(radar_d2), color='#b5623a', lw=.6, marker='o', ms=1.4, label='D2')
ax.plot(rt, closed(radar_d3), color='#e5a81e', lw=1, ls=(0, (5, 3)), label='D3')
ax.set_rlim(0, 1); ax.set_xticks(rt[:5]); ax.set_xticklabels(radar_labels, fontsize=2.4); ax.set_yticks([])
ax.tick_params(pad=-1); ax.grid(False); ax.spines['polar'].set_visible(False)
ax.legend(loc='upper right', bbox_to_anchor=(1.08, 1.03), frameon=False, borderaxespad=0, fontsize=2.3)

# ===== Multi-axes =====
ax = A(675.7, 421, 776, 531)
ax.plot(multi_x, multi_black, color='#444444', lw=.6, marker='o', ms=.7)
ax.set_xlim(16, 100); ax.set_ylim(0, 6)
ax.set_xticks([20, 40, 60, 80, 100]); ax.set_yticks([0, 1, 2, 3, 4, 5, 6]); ax.set_xlabel('epoch (T)'); ax.set_ylabel('Loss')
ax.axhline(4, color='#eeeeee', lw=.4, zorder=0)
ax2 = ax.twinx(); ax2.plot(multi_x, multi_blue, color='#6688ee', lw=.5, ls='--', marker='o', ms=.6)
ax2.set_ylim(0, 6); ax2.set_yticks([0, 1, 2, 3, 4, 5, 6]); ax2.set_yticklabels(['0', '10', '20', '30', '40', '50', '60'], color='#6688ee')
ax2.spines['right'].set_color('#6688ee')
ax3 = ax.twinx(); ax3.plot(multi_x, multi_red, color='#e83868', lw=.5, ls='--', marker='o', ms=.6)
ax3.set_ylim(0, 6); ax3.set_yticks([0, 1, 2, 3, 4, 5, 6]); ax3.set_yticklabels(['30', '40', '50', '60', '70', '80', '90'], color='#e83868')
ax3.spines['right'].set_position(('outward', 7)); ax3.spines['right'].set_color('#e83868')
for a_ in (ax, ax2, ax3):
    a_.spines['top'].set_color('#999999'); a_.spines['top'].set_linewidth(.8)

# ===== Polar =====
ax = A(5.7, 569, 125.7, 658, projection='polar')
ax.set_theta_zero_location('N'); ax.set_theta_direction(-1)
ax.set_thetamin(-45); ax.set_thetamax(45)
ax.scatter(np.radians(pol_theta), pol_r, s=[.23 * v * v for v in pol_s], c=pol_c, alpha=.88, linewidths=0, zorder=3)
ax.set_rlim(0, 262); ax.set_rticks([65, 130, 195, 262]); ax.set_yticklabels(['10', '20', '30', '40'], fontsize=2.2)
ax.set_xticks(np.radians([-45, -30, -15, 0, 15, 30, 45])); ax.set_xticklabels(['315', '330', '345', '0', '15', '30', '45'], fontsize=2.2)
ax.tick_params(pad=-.5); ax.grid(color='#dddddd', lw=.4)

# ===== 3D surface =====
ax = fig.add_axes([141 / W, 1 - 669 / H, 112 / W, 114 / H], projection='3d')
gv = np.arange(-4, 4.01, .25)
X, Y = np.meshgrid(gv, gv)
R = np.sqrt(X ** 2 + Y ** 2)
Z = np.interp(R, surf_profile_r, surf_profile_z)
ax.plot_surface(X, Y, Z, cmap='rainbow', rstride=1, cstride=1, linewidth=0, antialiased=False)
ax.contourf(X, Y, Z, zdir='z', offset=-2, cmap='rainbow', levels=20)
ax.set_zlim(-2, 2); ax.set_xlim(-4, 4); ax.set_ylim(-4, 4)
ax.set_xticks([-4, -2, 0, 2, 4]); ax.set_yticks([-4, -2, 0, 2, 4]); ax.set_zticks([-2, -1.5, -1, -.5, 0, .5, 1, 1.5, 2])
ax.tick_params(labelsize=3, pad=-3, length=0)
ax.view_init(30, -60)
light_3d(ax)

# ===== Combo =====
fig.text(332 / W, 1 - 560 / H, 'Adaptive Fitness Program: Participant Demographics Analysis', family='Liberation Serif', fontweight='bold', fontsize=3.3, ha='center', va='center', color='#222222')
ax = A(282, 569, 323, 610)
wed, _ = ax.pie(combo_don, colors=combo_don_c, startangle=115, counterclock=False, wedgeprops=dict(width=.42, edgecolor='white', linewidth=.2), labels=combo_don_l, textprops=dict(fontsize=1.7), labeldistance=1.12)
ax.set_xlim(-1.28, 1.28); ax.set_ylim(-1.28, 1.28)
fig.text(302 / W, 1 - 566.5 / H, 'Participants by Exercise Type', fontsize=2.4, ha='center', va='center')
ax = A(339.3, 569, 391.7, 609)
ax.bar([0, 1], combo_gender, .79, color=['#ff6f61', '#1abc9c'])
for i, v in enumerate(combo_gender):
    ax.text(i, v + 1, str(v), ha='center', va='bottom', fontsize=2)
ax.set_xlim(-.6, 1.58); ax.set_ylim(0, 60); ax.set_xticks([0, 1]); ax.set_xticklabels(['Male', 'Female'], fontsize=2)
ax.set_title('Gender Distribution', fontsize=2.4, pad=1); ax.tick_params(labelsize=2); ax.grid(axis='y', color='#eeeeee', lw=.3); ax.set_axisbelow(True)
ax = A(276.7, 626.7, 328.3, 669)
ax.bar([0, 1, 2], combo_age, .79, color=['#f1c40f', '#2ecc71', '#3498db'])
for i, v in enumerate(combo_age):
    ax.text(i, v + .8, f'{v:.0f}', ha='center', va='bottom', fontsize=2)
ax.set_xlim(-.66, 2.74); ax.set_ylim(0, 50); ax.set_xticks([0, 1, 2]); ax.set_xticklabels(['18-30', '31-45', '46+'], fontsize=2)
ax.set_title('Age Group Distribution', fontsize=2.4, pad=1); ax.set_xlabel('Age Group', fontsize=2); ax.set_ylabel('Participants', fontsize=2); ax.tick_params(labelsize=2)
for s in ['top', 'right']:
    ax.spines[s].set_visible(False)
ax = A(334.3, 626.7, 390, 669)
for v, c, n_ in [(combo_green, '#2ecc71', 'Male'), (combo_orange, '#e67e22', 'Female'), (combo_blue, '#3498db', 'Young'), (combo_purple, '#9b59b6', 'Older'), (combo_sky, '#74b9ff', 'All')]:
    ax.plot(range(7), v, color=c, lw=.45, marker='o', ms=.8, label=n_)
ax.set_xlim(-.08, 6.35); ax.set_ylim(0, 50); ax.set_xticks(range(7)); ax.set_xticklabels(combo_ticks, rotation=35, ha='right', fontsize=1.9)
ax.set_title('Interest Distribution by Exercise Type', fontsize=2.3, pad=1); ax.tick_params(labelsize=1.9); ax.grid(axis='y', color='#eeeeee', lw=.3)
ax.legend(loc='upper left', fontsize=1.7, frameon=False, borderaxespad=0)
for s in ['top', 'right']:
    ax.spines[s].set_visible(False)

# ===== Inset =====
ax = A(413, 564, 527.3, 669)
ax.errorbar(ins_x[:5], ins_y[:5], yerr=ins_err[:5], fmt='none', ecolor='#a8cfe6', elinewidth=1)
ax.errorbar(ins_x, ins_y, yerr=ins_err, fmt='s', ms=.9, color='#3a6ea5', elinewidth=.35, capsize=.6, capthick=.3, label='Data (T,C)')
ax.plot(ins_fit_x, ins_fit_y, color='#222222', lw=.6, label='Fit Line')
ax.scatter(ins_pink_x, ins_pink_y, s=3, color='#e8508f', linewidths=0, marker='*')
for lx, ly, lc in ins_lines:
    ax.plot(lx, ly, color=lc, lw=.45, ls='--', label={'#8a5fd0': 'Trial 2'}.get(lc))
ax.set_xlim(0, 7.5); ax.set_ylim(0, 788)
ax.set_xticks(range(8)); ax.set_yticks(range(0, 801, 100))
ax.set_title('My Publication-Quality Graphics', fontsize=2.8, pad=1.5); ax.set_xlabel('Sample (T)'); ax.set_ylabel('Response (C)')
ax.text(.15, 150, r'C = a$\times$T + b$\times$T$^2$ = 0.0051 T$^2$', fontsize=2.3)
ax.legend(loc='lower right', fontsize=2.3, fancybox=False, edgecolor='#777777', borderaxespad=.1)
ax.spines['left'].set_linewidth(.8); ax.spines['left'].set_color('#aaaaaa')
axi = A(430, 569, 489.7, 607.3)
axi.scatter(ins_pink_x, ins_pink_y, s=3, color='#e8508f', linewidths=0, marker='*')
for lx, ly, lc in ins_lines:
    axi.plot(lx, ly, color=lc, lw=.45, ls='--')
axi.set_xlim(5.95, 7.3); axi.set_ylim(460, 590); axi.tick_params(labelsize=1.9)
axi.set_xticks([6, 6.25, 6.5, 6.75, 7, 7.25]); axi.set_yticks(range(470, 590, 20))
for s in axi.spines.values():
    s.set_linewidth(.6); s.set_color('#555555')
ax.add_patch(Rectangle((5.95, 460), 1.35, 130, fc='none', ec='#333333', lw=.6, zorder=5))
ax.plot([5.03, 5.95], [640, 590], color='#888888', lw=.3)
ax.plot([5.03, 5.95], [450, 460], color='#888888', lw=.3)

# ===== Corr matrix =====
ax = A(544, 567, 647, 677)
cmap = plt.get_cmap('YlGnBu_r'); cnorm = Normalize(-1, 1)
nc = len(corr_labels)
for i, row in enumerate(corr_rows):
    for j, c in enumerate(row):
        w_ = .92 if abs(c) < .3 else .98
        h_ = .92 * (1 - abs(c)) + .1
        ax.add_patch(Ellipse((j + .5, i + .5), w_, h_, angle=45 if c >= 0 else -45, fc=cmap(cnorm(c)), ec='none'))
        ax.text(i + .5, j + .5, f'{c:.2f}'.replace('0.', '.'), ha='center', va='center', fontsize=1.4, color=cmap(cnorm(c * .8)))
for v in range(2, nc, 2):
    ax.axvline(v, color='#bbbbbb', lw=.4); ax.axhline(v, color='#bbbbbb', lw=.4)
ax.set_xlim(0, nc); ax.set_ylim(nc, 0)
ax.set_xticks(np.arange(nc) + .5); ax.set_xticklabels(corr_labels, rotation=45, ha='left', fontsize=2.1)
ax.set_yticks(np.arange(nc) + .5); ax.set_yticklabels(corr_labels, fontsize=2.1)
ax.xaxis.tick_top(); ax.tick_params(length=0)
for s in ax.spines.values():
    s.set_color('#cccccc')
cax = A(653, 567, 658, 677)
cax.imshow(np.linspace(1, 0, 64)[:, None], aspect='auto', cmap='YlGnBu_r', extent=[0, 1, -1, 1])
cax.set_xticks([]); cax.yaxis.tick_right(); cax.set_yticks([-1, 1]); cax.tick_params(labelsize=2, length=0)
for s in cax.spines.values():
    s.set_visible(False)

# ===== 3D scatter =====
ax = fig.add_axes([685 / W, 1 - 668 / H, 98 / W, 100 / H], projection='3d')
ax.scatter(s3_x, s3_y, s3_z, c=s3_c, cmap='viridis', s=3.5, depthshade=True, linewidths=0)
ax.set_xticks([10, 20, 30, 40]); ax.set_yticks([10, 20, 30, 40]); ax.set_zticks([10, 20, 30, 40])
ax.tick_params(labelsize=2.2, pad=-3, length=0)
ax.view_init(25, -55)
light_3d(ax)
fig.text(731 / W, 1 - 560 / H, '3D Scatter', fontsize=2.4, ha='center', va='center')

# ===== frames and captions on top =====
ov_ax = fig.add_axes([0, 0, 1, 1], facecolor='none', zorder=20)
ov_ax.set_xlim(0, W); ov_ax.set_ylim(H, 0); ov_ax.axis('off')
for (top, bot), cols_, caps, cy in zip(row_boxes, col_boxes, caption_rows, caption_y):
    for (l, r), cap in zip(cols_, caps):
        ov_ax.add_patch(Rectangle((l, top), r - l, bot - top, fc='none', ec='#6488d8', lw=1.2))
        ov_ax.text((l + r) / 2, cy, cap, ha='center', va='center', fontsize=9.7, color='#222222', family='Liberation Sans')

fig.savefig('out.png', dpi=100)
